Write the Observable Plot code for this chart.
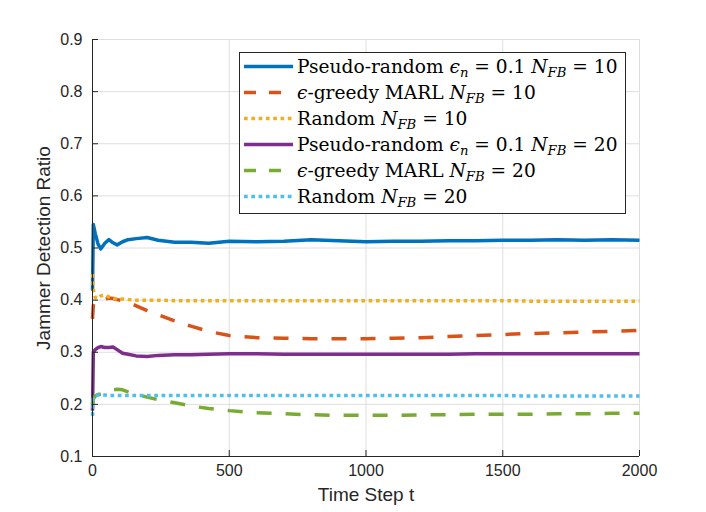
<!DOCTYPE html>
<html>
<head>
<meta charset="utf-8">
<script src="https://cdn.jsdelivr.net/npm/d3@7"></script>
<script src="https://cdn.jsdelivr.net/npm/@observablehq/plot@0.6"></script>
<style>
  html, body { margin: 0; padding: 0; background: white; }
  #wrap { position: relative; width: 706px; height: 512px; }
  #legend { position: absolute; left: 0; top: 0; pointer-events: none; }
</style>
</head>
<body>
<div id="wrap"></div>
<script>
// ---- data ----
const steps = [0, 3, 10, 20, 30, 45, 60, 75, 90, 110, 130, 160, 200, 240, 300, 360, 425, 500, 600, 700, 800, 900, 1000, 1100, 1200, 1300, 1400, 1500, 1600, 1700, 1800, 1900, 2000];

const pseudo10 = [0.418, 0.545, 0.528, 0.508, 0.498, 0.509, 0.516, 0.510, 0.506, 0.512, 0.516, 0.518, 0.520, 0.515, 0.511, 0.511, 0.509, 0.513, 0.512, 0.513, 0.516, 0.514, 0.512, 0.513, 0.513, 0.514, 0.514, 0.515, 0.515, 0.516, 0.515, 0.516, 0.515];
const greedy10 = [0.364, 0.390, 0.398, 0.399, 0.400, 0.402, 0.404, 0.403, 0.401, 0.399, 0.396, 0.389, 0.380, 0.372, 0.360, 0.350, 0.340, 0.332, 0.328, 0.327, 0.326, 0.326, 0.326, 0.327, 0.328, 0.330, 0.332, 0.334, 0.336, 0.337, 0.339, 0.340, 0.342];
const random10 = [0.450, 0.420, 0.405, 0.403, 0.408, 0.410, 0.406, 0.404, 0.402, 0.402, 0.401, 0.400, 0.400, 0.400, 0.399, 0.399, 0.399, 0.399, 0.399, 0.399, 0.399, 0.399, 0.399, 0.399, 0.399, 0.399, 0.399, 0.399, 0.398, 0.398, 0.398, 0.398, 0.398];
const pseudo20 = [0.188, 0.300, 0.305, 0.309, 0.311, 0.309, 0.309, 0.310, 0.305, 0.298, 0.296, 0.293, 0.292, 0.294, 0.295, 0.295, 0.296, 0.297, 0.297, 0.296, 0.296, 0.296, 0.296, 0.296, 0.296, 0.296, 0.297, 0.297, 0.297, 0.297, 0.297, 0.297, 0.297];
const greedy20 = [0.200, 0.210, 0.216, 0.219, 0.220, 0.222, 0.226, 0.228, 0.229, 0.228, 0.224, 0.219, 0.214, 0.209, 0.203, 0.197, 0.192, 0.188, 0.184, 0.182, 0.180, 0.179, 0.179, 0.179, 0.180, 0.180, 0.181, 0.181, 0.181, 0.182, 0.182, 0.183, 0.183];
const random20 = [0.178, 0.214, 0.216, 0.218, 0.219, 0.218, 0.217, 0.217, 0.217, 0.217, 0.217, 0.217, 0.217, 0.217, 0.217, 0.217, 0.217, 0.217, 0.217, 0.217, 0.217, 0.217, 0.217, 0.217, 0.217, 0.217, 0.217, 0.217, 0.216, 0.216, 0.216, 0.216, 0.216];

const seriesValues = [pseudo10, greedy10, random10, pseudo20, greedy20, random20];
const methodNames = ["Pseudo-random", "ϵ-greedy MARL", "Random", "Pseudo-random", "ϵ-greedy MARL", "Random"];
const nfbValues = [10, 10, 10, 20, 20, 20];
const seriesColors = ["#0072BD", "#D95319", "#EDB120", "#7E2F8E", "#77AC30", "#4DBEEE"];
const seriesDash = ["none", "15,14", "3.7,3.6", "none", "15,14", "3.7,3.6"];

const xTicks = [0, 500, 1000, 1500, 2000];
const yTicks = [0.1, 0.2, 0.3, 0.4, 0.5, 0.6, 0.7, 0.8, 0.9];

// ---- chart ----
const W = 706, H = 512, mL = 92, mR = 67, mT = 39, mB = 56;
const plotW = W - mL - mR, plotH = H - mT - mB;
const axisColor = "#262626";

const lineMarks = seriesValues.map((vals, i) => {
  const rows = steps.map((t, j) => ({t, v: vals[j]}));
  return Plot.line(rows, {
    x: "t", y: "v",
    stroke: seriesColors[i],
    strokeWidth: 3.5,
    strokeDasharray: seriesDash[i],
    strokeLinecap: "butt",
    strokeLinejoin: "round",
    curve: "linear"
  });
});

const chart = Plot.plot({
  width: W, height: H,
  marginLeft: mL, marginRight: mR, marginTop: mT, marginBottom: mB,
  style: {fontFamily: "'Liberation Sans', Arial, Helvetica, sans-serif", fontSize: "16px", color: axisColor, background: "white", overflow: "visible"},
  x: {domain: [0, 2000]},
  y: {domain: [0.1, 0.9]},
  marks: [
    Plot.gridX(xTicks, {stroke: "#dedede", strokeOpacity: 1, strokeWidth: 1}),
    Plot.gridY(yTicks, {stroke: "#dedede", strokeOpacity: 1, strokeWidth: 1}),
    ...lineMarks,
    Plot.ruleX(xTicks, {x: d => d, insetTop: plotH - 6, stroke: axisColor, strokeWidth: 1}),
    Plot.ruleY(yTicks, {y: d => d, insetRight: plotW - 6, stroke: axisColor, strokeWidth: 1}),
    Plot.ruleX([0], {stroke: axisColor, strokeWidth: 1}),
    Plot.ruleY([0.1], {stroke: axisColor, strokeWidth: 1}),
    Plot.axisX(xTicks, {tickSize: 0, tickPadding: 8, label: null, tickFormat: d3.format("d"), fontSize: 16, fill: axisColor}),
    Plot.axisY(yTicks, {tickSize: 0, tickPadding: 10, label: null, tickFormat: d3.format(".1f"), fontSize: 16, fill: axisColor}),
    Plot.text(["Time Step t"], {frameAnchor: "bottom", dy: 44, fontSize: 19, fill: axisColor}),
    Plot.text(["Jammer Detection Ratio"], {frameAnchor: "left", textAnchor: "middle", dx: -49, rotate: -90, fontSize: 19, fill: axisColor})
  ]
});

const wrap = document.getElementById("wrap");
wrap.appendChild(chart);

// ---- legend (overlay) ----
const lg = d3.select(wrap).append("svg")
  .attr("id", "legend").attr("width", W).attr("height", H);
const box = {x: 239.5, y: 52.5, w: 386, h: 161};
lg.append("rect").attr("x", box.x).attr("y", box.y).attr("width", box.w).attr("height", box.h)
  .attr("fill", "white").attr("stroke", axisColor).attr("stroke-width", 1);
const rowH = 26, row0 = 66.5;
const serif = "'DejaVu Serif', 'Liberation Serif', serif";
methodNames.forEach((name, i) => {
  const cy = row0 + i * rowH;
  lg.append("line").attr("x1", 244).attr("x2", 293).attr("y1", cy).attr("y2", cy)
    .attr("stroke", seriesColors[i]).attr("stroke-width", 3.5)
    .attr("stroke-dasharray", seriesDash[i] === "none" ? null : (seriesDash[i] === "15,14" ? "12,13" : "3.7,3.6"));
  const t = lg.append("text").attr("x", 297).attr("y", cy + 6.5)
    .attr("font-family", serif).attr("font-size", 18.6).attr("fill", "#000");
  if (name.startsWith("ϵ")) {
    t.append("tspan").attr("font-style", "italic").text("ϵ");
    t.append("tspan").text(name.slice(1) + " ");
  } else if (name === "Pseudo-random") {
    t.append("tspan").text(name + " ");
    t.append("tspan").attr("font-style", "italic").text("ϵ");
    t.append("tspan").attr("font-style", "italic").attr("font-size", 13.2).attr("dy", 4).text("n");
    t.append("tspan").attr("dy", -4).text(" = 0.1 ");
  } else {
    t.append("tspan").text(name + " ");
  }
  t.append("tspan").attr("font-style", "italic").text("N");
  t.append("tspan").attr("font-style", "italic").attr("font-size", 13.2).attr("dy", 4).text("FB");
  t.append("tspan").attr("dy", -4).text(" = " + nfbValues[i]);
});
</script>
</body>
</html>
